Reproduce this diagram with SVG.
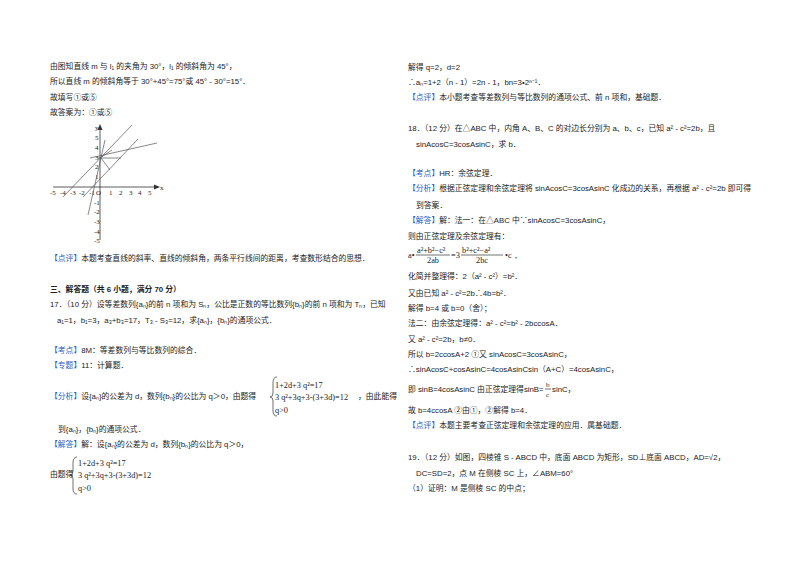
<svg xmlns="http://www.w3.org/2000/svg" width="800" height="565" viewBox="0 0 800 565">
<style>
text{font-family:"Liberation Sans","Noto Sans CJK SC",sans-serif;font-size:7.8px;fill:#222}
.b{fill:#1f5fbf}
.h{font-weight:bold}
.ax{stroke:#333;stroke-width:0.8;fill:none}
.ln{stroke:#555;stroke-width:0.7;fill:none}
.t{font-family:"Liberation Serif",serif;font-size:7px}
.m{font-family:"Liberation Serif",serif;font-size:8.3px}
.br{stroke:#333;stroke-width:0.7;fill:none}
</style>
<rect width="800" height="565" fill="#fff"/>
<g id="left">
<text x="50" y="69">由图知直线 m 与 l₁ 的夹角为 30°，l₁ 的倾斜角为 45°，</text>
<text x="50" y="84">所以直线 m 的倾斜角等于 30°+45°=75°或 45° - 30°=15°．</text>
<text x="50" y="100">故填写①或⑤</text>
<text x="50" y="115">故答案为：①或⑤</text>
<g id="graph">
<line class="ax" x1="53" y1="187" x2="158" y2="187"/>
<polygon points="160,187 154,184.5 154,189.5" fill="#333"/>
<line class="ax" x1="100" y1="240" x2="100" y2="127"/>
<polygon points="100,124 97.5,130 102.5,130" fill="#333"/>
<text class="t" x="160" y="190">x</text>
<text class="t" x="95" y="130">y</text>
<text class="t" x="50" y="195">-5</text><text class="t" x="60" y="195">-4</text><text class="t" x="70" y="195">-3</text><text class="t" x="79" y="195">-2</text><text class="t" x="89" y="195">-1</text><text class="t" x="96" y="195">O</text>
<text class="t" x="109" y="195">1</text><text class="t" x="119" y="195">2</text><text class="t" x="129" y="195">3</text><text class="t" x="138" y="195">4</text><text class="t" x="148" y="195">5</text>
<text class="t" x="95" y="140">5</text><text class="t" x="95" y="150">4</text><text class="t" x="95" y="160">3</text><text class="t" x="95" y="169">2</text><text class="t" x="95" y="179">1</text>
<text class="t" x="94" y="205">-1</text><text class="t" x="94" y="214">-2</text><text class="t" x="94" y="224">-3</text><text class="t" x="94" y="234">-4</text><text class="t" x="94" y="243">-5</text>
<line class="ln" x1="63" y1="197" x2="132" y2="125"/>
<line class="ln" x1="83" y1="197" x2="138" y2="139"/>
<line class="ln" x1="88" y1="215" x2="105" y2="140"/>
<line class="ln" x1="90" y1="158" x2="157" y2="143"/>
<line class="ln" x1="98" y1="158" x2="121" y2="158"/>
<line class="ln" x1="101" y1="158" x2="110" y2="170"/>
<line class="ln" x1="100" y1="158" x2="112" y2="150"/>
</g>
<text x="50" y="261"><tspan class="b">【点评】</tspan>本题考查直线的斜率、直线的倾斜角，两条平行线间的距离，考查数形结合的思想．</text>
<text x="50" y="292" class="h">三、解答题（共 6 小题，满分 70 分）</text>
<text x="50" y="307">17．（10 分）设等差数列{aₙ}的前 n 项和为 Sₙ，公比是正数的等比数列{bₙ}的前 n 项和为 Tₙ，已知</text>
<text x="57" y="323">a₁=1，b₁=3，a₃+b₃=17，T₃ - S₃=12，求{aₙ}，{bₙ}的通项公式．</text>
<text x="50" y="353"><tspan class="b">【考点】</tspan>8M：等差数列与等比数列的综合．</text>
<text x="50" y="368"><tspan class="b">【专题】</tspan>11：计算题．</text>
<text x="50" y="399"><tspan class="b">【分析】</tspan>设{aₙ}的公差为 d，数列{bₙ}的公比为 q＞0，由题得</text>
<path class="br" d="M277,377 Q273,377 273,383 L273,393 Q273,397 270,397 Q273,397 273,401 L273,411 Q273,416 277,416"/>
<text class="m" x="275" y="388">1+2d+3 q²=17</text>
<text class="m" x="275" y="400">3 q²+3q+3-(3+3d)=12</text>
<text class="m" x="275" y="413">q&gt;0</text>
<text x="358" y="399">，由此能得</text>
<text x="58" y="432">到{aₙ}，{bₙ}的通项公式．</text>
<text x="50" y="447"><tspan class="b">【解答】</tspan>解：设{aₙ}的公差为 d，数列{bₙ}的公比为 q＞0，</text>
<text x="50" y="477">由题得</text>
<path class="br" d="M77,457 Q73,457 73,463 L73,471 Q73,475 70,475 Q73,475 73,479 L73,489 Q73,494 77,494"/>
<text class="m" x="78" y="466">1+2d+3 q²=17</text>
<text class="m" x="78" y="478">3 q²+3q+3-(3+3d)=12</text>
<text class="m" x="78" y="491">q&gt;0</text>
</g>
<g id="right">
<text x="408" y="70">解得 q=2，d=2</text>
<text x="408" y="85">∴aₙ=1+2（n - 1）=2n - 1，bn=3•2ⁿ⁻¹．</text>
<text x="408" y="100"><tspan class="b">【点评】</tspan>本小题考查等差数列与等比数列的通项公式、前 n 项和，基础题．</text>
<text x="408" y="131">18．（12 分）在△ABC 中，内角 A、B、C 的对边长分别为 a、b、c，已知 a² - c²=2b，且</text>
<text x="416" y="147">sinAcosC=3cosAsinC，求 b．</text>
<text x="408" y="176"><tspan class="b">【考点】</tspan>HR：余弦定理．</text>
<text x="408" y="191"><tspan class="b">【分析】</tspan>根据正弦定理和余弦定理将 sinAcosC=3cosAsinC 化成边的关系，再根据 a² - c²=2b 即可得</text>
<text x="416" y="208">到答案．</text>
<text x="408" y="223"><tspan class="b">【解答】</tspan>解：法一：在△ABC 中∵sinAcosC=3cosAsinC，</text>
<text x="408" y="239">则由正弦定理及余弦定理有：</text>
<text class="m" x="408" y="258">a•</text>
<text class="m" x="417" y="253">a²+b²−c²</text>
<line class="br" x1="416" y1="255" x2="450" y2="255"/>
<text class="m" x="427" y="263">2ab</text>
<text class="m" x="451" y="258">=3</text>
<text class="m" x="462" y="253">b²+c²−a²</text>
<line class="br" x1="461" y1="255" x2="503" y2="255"/>
<text class="m" x="476" y="263">2bc</text>
<text class="m" x="505" y="258">•c，</text>
<text x="408" y="279">化简并整理得：2（a² - c²）=b²．</text>
<text x="408" y="296">又由已知 a² - c²=2b∴4b=b²．</text>
<text x="408" y="311">解得 b=4 或 b=0（舍）；</text>
<text x="408" y="326">法二：由余弦定理得：a² - c²=b² - 2bccosA．</text>
<text x="408" y="342">又 a² - c²=2b，b≠0．</text>
<text x="408" y="357">所以 b=2ccosA+2 ①又 sinAcosC=3cosAsinC，</text>
<text x="408" y="372">∴sinAcosC+cosAsinC=4cosAsinCsin（A+C）=4cosAsinC，</text>
<text x="408" y="392">即 sinB=4cosAsinC 由正弦定理得sinB=</text>
<text class="t" x="546" y="387">b</text>
<line class="br" x1="545" y1="389" x2="551" y2="389"/>
<text class="t" x="546" y="397">c</text>
<text x="552" y="392">sinC，</text>
<text x="408" y="413">故 b=4ccosA ②由①，②解得 b=4．</text>
<text x="408" y="428"><tspan class="b">【点评】</tspan>本题主要考查正弦定理和余弦定理的应用．属基础题．</text>
<text x="408" y="460">19．（12 分）如图，四棱锥 S - ABCD 中，底面 ABCD 为矩形，SD⊥底面 ABCD，AD=√2，</text>
<text x="416" y="476">DC=SD=2，点 M 在侧棱 SC 上，∠ABM=60°</text>
<text x="408" y="491">（1）证明：M 是侧棱 SC 的中点；</text>
</g>
</svg>
